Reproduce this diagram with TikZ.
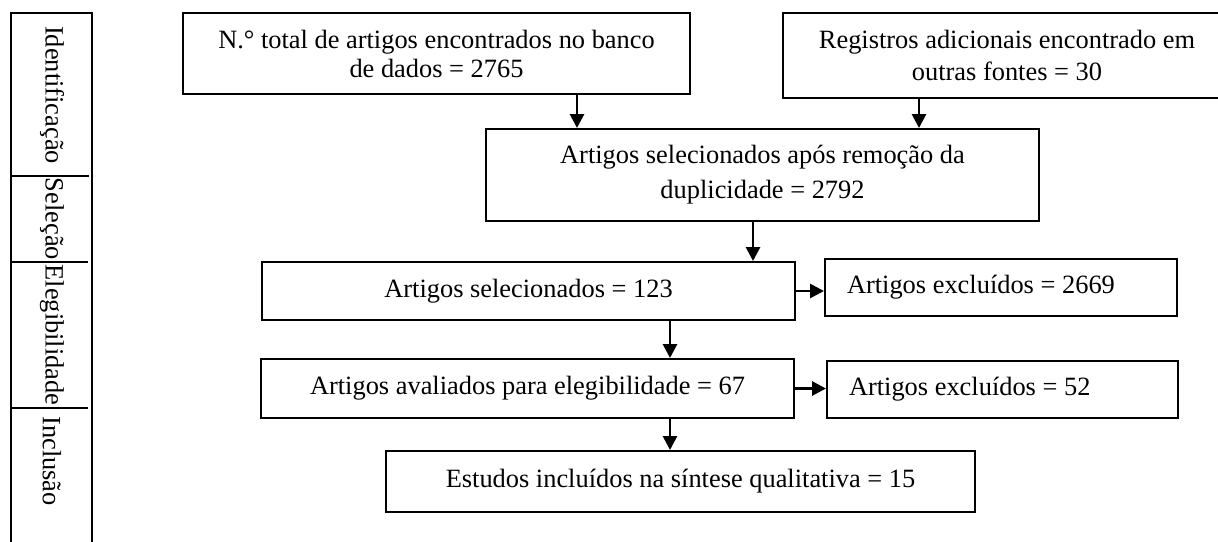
\documentclass[tikz,border=0pt]{standalone}
\usepackage{fontspec}
\setmainfont{Liberation Serif}
\usetikzlibrary{arrows.meta}
\begin{document}
\begin{tikzpicture}[x=0.5pt,y=-0.5pt,
  every node/.style={font=\fontsize{13.2}{16}\selectfont},
  box/.style={draw,line width=1pt,inner sep=0pt,align=center,anchor=center},
  arr/.style={line width=1.4pt,-{Triangle[width=7pt,length=7pt]}},
  frame/.style={line width=1pt},
  side/.style={rotate=-90,anchor=center,inner sep=0pt}]
\useasboundingbox (0,0) rectangle (1218,541);
\clip (0,0) rectangle (1218,541);
% sidebar
\draw[frame] (11,560) -- (11,13) -- (92,13) -- (92,560);
\draw[frame] (11,176) -- (89,176);
\draw[frame] (11,262) -- (88,262);
\draw[frame] (11,408) -- (88,408);
\node[side] (s1) at (52,95) {Identificação};
\node[side] (s2) at (52,219) {Seleção};
\node[side] (s3) at (52,335) {Elegibilidade};
\node[side] (s4) at (52,461) {Inclusão};
% boxes
\node[box,minimum width=253.5pt,minimum height=40.5pt,font=\fontsize{13.2}{14.5}\selectfont] (b1) at (436.5,53.5) {N.° total de artigos encontrados no banco\\de dados = 2765};
\node[box,minimum width=224pt,minimum height=42.5pt] (b2) at (1007,55.5) {Registros adicionais encontrado em\\outras fontes = 30};
\node[box,minimum width=276.5pt,minimum height=46pt,font=\fontsize{13.2}{17.5}\selectfont] (b3) at (762.5,175) {Artigos selecionados após remoção da\\duplicidade = 2792};
\node[box,minimum width=266.5pt,minimum height=29pt] (b4) at (528.5,291) {Artigos selecionados = 123};
\node[box,minimum height=28.5pt] (b5) at (1001,287.5) {\makebox[176pt][l]{\hspace{11pt}Artigos excluídos = 2669}};
\node[box,minimum width=266.5pt,minimum height=29.5pt] (b6) at (527.5,388.5) {Artigos avaliados para elegibilidade = 67};
\node[box,minimum height=28.5pt] (b7) at (1002.5,389.5) {\makebox[175.5pt][l]{\hspace{11pt}Artigos excluídos = 52}};
\node[box,minimum width=294.5pt,minimum height=30.5pt] (b8) at (680.5,481.5) {Estudos incluídos na síntese qualitativa = 15};
% connector columns
\coordinate (c1) at (577,0);
\coordinate (c2) at (919,0);
\coordinate (c3) at (753,0);
\coordinate (c4) at (670,0);
\draw[arr] (b1.south -| c1) -- (b3.north -| c1);
\draw[arr] (b2.south -| c2) -- (b3.north -| c2);
\draw[arr] (b3.south -| c3) -- (b4.north -| c3);
\draw[arr] (b4.south -| c4) -- (b6.north -| c4);
\draw[arr] (b6.south -| c4) -- (b8.north -| c4);
\draw[arr] (b4.east) -- (b4.east -| b5.west);
\draw[arr] (b6.east) -- (b6.east -| b7.west);
\end{tikzpicture}
\end{document}
